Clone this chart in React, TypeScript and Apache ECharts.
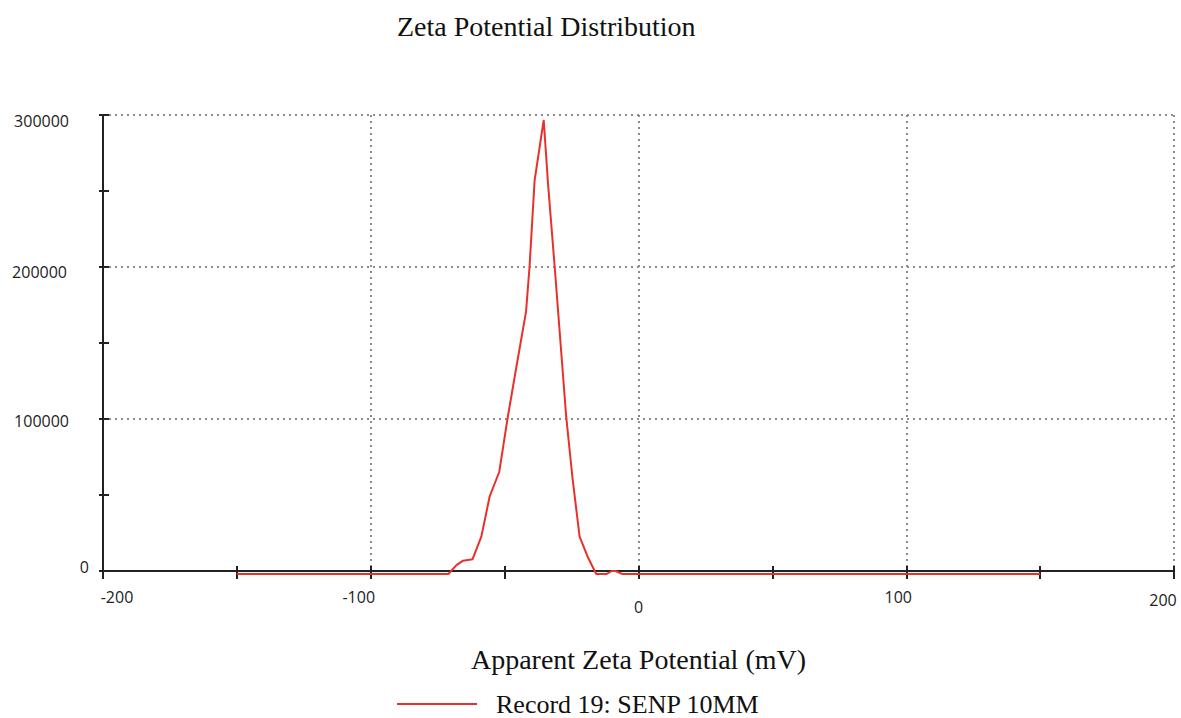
import React, { useEffect, useRef } from "react";
import * as echarts from "echarts";

// Apparent zeta potential (mV) and count for Record 19
const zetaMv: number[] = [
  -150, -71, -68, -65.5, -62, -58.7, -55.6, -52, -48.8, -45.6, -42, -40.7, -38.8,
  -35.4, -33.8, -31.3, -27, -24.7, -22, -19, -15.8, -12, -10, -8.5, -6, 150,
];
const counts: number[] = [
  -2000, -2000, 3900, 6800, 7700, 22600, 48900, 65300, 101500, 134400, 170600, 200000,
  257000, 296700, 255000, 200000, 101500, 62000, 22600, 9400, -2000, -2000, 0, 0, -2000,
  -2000,
];

const seriesName = "Record 19: SENP 10MM";
const titleText = "Zeta Potential Distribution";
const xAxisTitle = "Apparent Zeta Potential (mV)";
const xTickValues: number[] = [-200, -100, 0, 100, 200];
const yTickValues: number[] = [0, 100000, 200000, 300000];

const X_MIN = -200;
const X_MAX = 200;
const Y_MIN = 0;
const Y_MAX = 300000;

const tickFont = "'Open Sans', 'DejaVu Sans', sans-serif";
const serifFont = "'Liberation Serif', 'Times New Roman', serif";

export default function App() {
  const ref = useRef<HTMLDivElement | null>(null);

  useEffect(() => {
    if (!ref.current) return;
    const chart = echarts.init(ref.current, undefined, { renderer: "svg" });

    const data = zetaMv.map((x, i) => [x, counts[i]]);

    const xLabelKey: Record<string, string> = {
      "-200": "xa",
      "-100": "xb",
      "0": "xc",
      "100": "xd",
      "200": "xe",
    };
    const yLabelKey: Record<string, string> = {
      "0": "ya",
      "100000": "yb",
      "200000": "yc",
      "300000": "yd",
    };

    const tickBase = { fontFamily: tickFont, fontSize: 16, color: "#222" };
    const dotted = { color: "#8c8c8c", width: 2, type: [2, 4] as number[] };

    const mainTick = { show: true, length: 8, lineStyle: { color: "#222", width: 2 } };
    const innerTick = { show: true, inside: true, length: 5, lineStyle: { color: "#222", width: 2 } };

    chart.setOption({
      animation: false,
      backgroundColor: "#ffffff",
      title: {
        text: titleText,
        left: 397,
        top: 12,
        padding: 0,
        textStyle: {
          fontFamily: serifFont,
          fontSize: 28,
          fontWeight: "normal",
          color: "#111",
        },
      },
      legend: {
        data: [seriesName],
        left: 397,
        top: 691,
        padding: 0,
        icon: "path://M0 0 H40 V1 H0 Z",
        itemWidth: 84,
        itemHeight: 2,
        itemGap: 17,
        textStyle: {
          fontFamily: serifFont,
          fontSize: 26,
          lineHeight: 22,
          color: "#111",
          padding: [0, 0, 0, 12],
        },
      },
      grid: { left: 103, right: 7, top: 115, bottom: 147, containLabel: false },
      xAxis: [
        {
          type: "value",
          min: X_MIN,
          max: X_MAX,
          interval: 100,
          position: "bottom",
          name: xAxisTitle,
          nameLocation: "middle",
          nameGap: 74,
          nameTextStyle: { fontFamily: serifFont, fontSize: 28, color: "#111" },
          axisLine: { show: true, onZero: false, lineStyle: { color: "#222", width: 2 } },
          axisTick: mainTick,
          minorTick: { show: true, splitNumber: 2, length: 8, lineStyle: { color: "#222", width: 2 } },
          splitLine: { show: true, lineStyle: dotted },
          axisLabel: {
            margin: 18,
            ...tickBase,
            formatter: (v: number) =>
              xTickValues.includes(v) ? `{${xLabelKey[String(v)]}|${v}}` : "",
            rich: {
              xa: { ...tickBase, padding: [0, 0, 0, 28] },
              xb: { ...tickBase, padding: [0, 24, 0, 0] },
              xc: { ...tickBase, padding: [10, 0, 0, 0] },
              xd: { ...tickBase, padding: [0, 16, 0, 0] },
              xe: { ...tickBase, padding: [3, 22, 0, 0] },
            },
          },
        },
        {
          type: "value",
          min: X_MIN,
          max: X_MAX,
          interval: 100,
          position: "bottom",
          axisLine: { show: false, onZero: false },
          axisTick: innerTick,
          minorTick: { show: true, splitNumber: 2, length: 5, lineStyle: { color: "#222", width: 2 } },
          splitLine: { show: false },
          axisLabel: { show: false },
        },
      ],
      yAxis: [
        {
          type: "value",
          min: Y_MIN,
          max: Y_MAX,
          interval: 100000,
          position: "left",
          axisLine: { show: true, onZero: false, lineStyle: { color: "#222", width: 2 } },
          axisTick: { ...mainTick, length: 4 },
          minorTick: { show: true, splitNumber: 2, length: 4, lineStyle: { color: "#222", width: 2 } },
          splitLine: { show: true, lineStyle: dotted },
          axisLabel: {
            margin: 14,
            ...tickBase,
            formatter: (v: number) =>
              yTickValues.includes(v) ? `{${yLabelKey[String(v)]}|${v}}` : "",
            rich: {
              ya: { ...tickBase, padding: [0, 0, 8, 0] },
              yb: { ...tickBase, padding: [4, 20, 0, 0] },
              yc: { ...tickBase, padding: [10, 22, 0, 0] },
              yd: { ...tickBase, padding: [12, 20, 0, 0] },
            },
          },
        },
        {
          type: "value",
          min: Y_MIN,
          max: Y_MAX,
          interval: 100000,
          position: "left",
          axisLine: { show: false, onZero: false },
          axisTick: { ...innerTick, length: 6 },
          minorTick: { show: true, splitNumber: 2, length: 6, lineStyle: { color: "#222", width: 2 } },
          splitLine: { show: false },
          axisLabel: { show: false },
        },
      ],
      series: [
        {
          name: seriesName,
          type: "line",
          xAxisIndex: 0,
          yAxisIndex: 0,
          data,
          symbol: "none",
          showSymbol: false,
          clip: false,
          z: 5,
          lineStyle: { color: "#e8302c", width: 2 },
          itemStyle: { color: "#e8302c" },
        },
      ],
    });

    return () => {
      chart.dispose();
    };
  }, []);

  return (
    <div
      ref={ref}
      style={{ position: "fixed", left: 0, top: 0, width: 1181, height: 718 }}
    />
  );
}
